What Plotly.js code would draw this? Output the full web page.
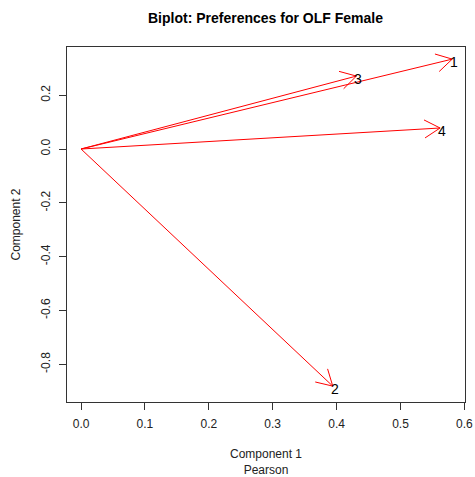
<!DOCTYPE html>
<html><head><meta charset="utf-8">
<script src="https://cdn.plot.ly/plotly-3.0.1.min.js"></script>
<style>body{margin:0;padding:0;background:#fff}#chart{width:475px;height:477px}</style>
</head><body><div id="chart"></div>
<script>
const labels = ["1", "2", "3", "4"];
const comp1 = [0.581, 0.394, 0.431, 0.562];
const comp2 = [0.334, -0.881, 0.271, 0.078];
const xTicks = [0.0, 0.1, 0.2, 0.3, 0.4, 0.5, 0.6];
const xTickText = ["0.0", "0.1", "0.2", "0.3", "0.4", "0.5", "0.6"];
const yTicks = [0.2, 0.0, -0.2, -0.4, -0.6, -0.8];
const yTickText = ["0.2", "0.0", "-0.2", "-0.4", "-0.6", "-0.8"];

const W = 475, H = 477;
const M = {l: 67, r: 10, t: 47, b: 75};
const xr = [-0.022, 0.601], yr = [-0.94, 0.379];
const sx = (W - M.l - M.r) / (xr[1] - xr[0]);
const sy = (H - M.t - M.b) / (yr[1] - yr[0]);

const shaftX = [], shaftY = [], headX = [], headY = [];
const L = 18, A = 30 * Math.PI / 180;
labels.forEach((lab, i) => {
  const x = comp1[i], y = comp2[i];
  shaftX.push(0, x, null); shaftY.push(0, y, null);
  const ang = Math.atan2(y * sy, x * sx);
  [ang + A, ang - A].forEach(a => {
    headX.push(x - L * Math.cos(a) / sx, x, null);
    headY.push(y - L * Math.sin(a) / sy, y, null);
  });
});

const traces = [
  {x: shaftX, y: shaftY, mode: 'lines', line: {color: '#ff0000', width: 1}, hoverinfo: 'skip'},
  {x: headX, y: headY, mode: 'lines', line: {color: '#ff0000', width: 1}, hoverinfo: 'skip'}
];

const annotations = labels.map((lab, i) => ({
  x: comp1[i], y: comp2[i], text: lab, showarrow: false, xshift: 2, yshift: -3,
  xanchor: 'center', yanchor: 'middle',
  font: {family: 'Liberation Sans, Arial, sans-serif', size: 14, color: '#000'}
}));

const axFont = {family: 'Liberation Sans, Arial, sans-serif', size: 12, color: '#222'};
const layout = {
  width: W, height: H, margin: M, showlegend: false, annotations,
  paper_bgcolor: '#fff', plot_bgcolor: '#fff',
  title: {text: '<b>Biplot: Preferences for OLF Female</b>', x: 0.5589, xanchor: 'center', y: 0.962, yanchor: 'middle',
          font: {family: 'Liberation Sans, Arial, sans-serif', size: 14, color: '#000'}},
  xaxis: {range: xr, tickvals: xTicks, ticktext: xTickText, ticks: 'outside', ticklen: 7, tickcolor: '#333',
          ticklabelstandoff: 4,
          showgrid: false, zeroline: false, showline: true, mirror: true, linecolor: '#333', linewidth: 1,
          tickfont: axFont, title: {text: 'Component 1<br>Pearson', font: axFont, standoff: 20}},
  yaxis: {range: yr, tickvals: yTicks, ticktext: yTickText, ticks: 'outside', ticklen: 7, tickcolor: '#333', tickangle: -90,
          ticklabelstandoff: 4,
          showgrid: false, zeroline: false, showline: true, mirror: true, linecolor: '#333', linewidth: 1,
          tickfont: axFont, title: {text: 'Component 2', font: axFont, standoff: 16}}
};
Plotly.newPlot('chart', traces, layout, {displayModeBar: false, staticPlot: true});
</script></body></html>
